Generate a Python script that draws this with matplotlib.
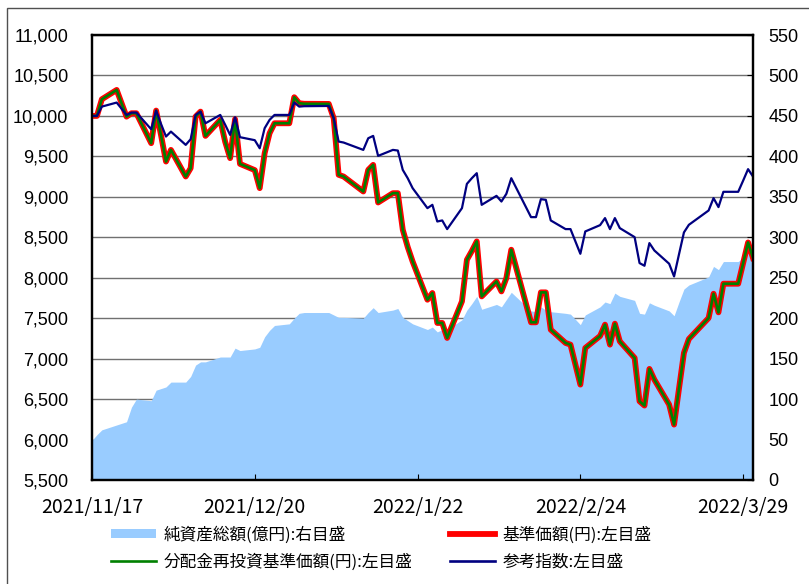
import matplotlib.pyplot as plt
import pandas as pd
from matplotlib.patches import Patch, Rectangle
from matplotlib.lines import Line2D
from matplotlib.ticker import FuncFormatter

dates = [
    "2021-11-17", "2021-11-18", "2021-11-19", "2021-11-22", "2021-11-24", "2021-11-25", "2021-11-26",
    "2021-11-29", "2021-11-30",
    "2021-12-01", "2021-12-02", "2021-12-03", "2021-12-06", "2021-12-07", "2021-12-08", "2021-12-09",
    "2021-12-10", "2021-12-13", "2021-12-14", "2021-12-15", "2021-12-16", "2021-12-17", "2021-12-20",
    "2021-12-21", "2021-12-22", "2021-12-23", "2021-12-24", "2021-12-27", "2021-12-28", "2021-12-29",
    "2021-12-30",
    "2022-01-04", "2022-01-05", "2022-01-06", "2022-01-07", "2022-01-11", "2022-01-12", "2022-01-13",
    "2022-01-14", "2022-01-17", "2022-01-18", "2022-01-19", "2022-01-20", "2022-01-21", "2022-01-24",
    "2022-01-25", "2022-01-26", "2022-01-27", "2022-01-28", "2022-01-31",
    "2022-02-01", "2022-02-02", "2022-02-03", "2022-02-04", "2022-02-07", "2022-02-08", "2022-02-09",
    "2022-02-10", "2022-02-14", "2022-02-15", "2022-02-16", "2022-02-17", "2022-02-18", "2022-02-21",
    "2022-02-22", "2022-02-24", "2022-02-25", "2022-02-28",
    "2022-03-01", "2022-03-02", "2022-03-03", "2022-03-04", "2022-03-07", "2022-03-08", "2022-03-09",
    "2022-03-10", "2022-03-11", "2022-03-14", "2022-03-15", "2022-03-16", "2022-03-17", "2022-03-18",
    "2022-03-22", "2022-03-23", "2022-03-24", "2022-03-25", "2022-03-28", "2022-03-29", "2022-03-30",
    "2022-03-31",
]

# 基準価額 (分配金再投資基準価額 is the same)
nav = [
    10000, 10000, 10206, 10321, 9991, 10033, 10033, 9663, 10066,
    9760, 9436, 9580, 9251, 9354, 9991, 10053, 9753, 9951, 9680, 9478, 9959, 9407, 9330,
    9107, 9539, 9786, 9909, 9909, 10231, 10157, 10150,
    10148, 9971, 9272, 9251, 9066, 9333, 9395, 8930, 9045, 9045, 8593, 8380, 8200, 7728,
    7811, 7441, 7441, 7256, 7708,
    8222, 8330, 8449, 7769, 7954, 7831, 7996, 8346, 7449, 7449, 7819, 7819, 7358, 7194,
    7173, 6679, 7132, 7280,
    7420, 7173, 7432, 7214, 7009, 6473, 6420, 6873, 6741, 6432, 6185, 6630, 7071, 7243,
    7502, 7802, 7572, 7926, 7926, 8180, 8436, 8243,
]
nav_reinvested = list(nav)

ref_index = [
    10000, 10000, 10115, 10165, 10012, 10041, 10041, 9835, 10066,
    9900, 9745, 9806, 9642, 9712, 10012, 10053, 9909, 10012, 9890, 9765, 9984, 9737, 9700,
    9600, 9848, 9951, 10012, 10012, 10165, 10115, 10120,
    10123, 9971, 9683, 9671, 9580, 9724, 9753, 9506, 9580, 9572, 9333, 9230, 9107, 8860,
    8901, 8695, 8708, 8601, 8860,
    9160, 9230, 9292, 8901, 9012, 8942, 9037, 9230, 8749, 8749, 8971, 8963, 8708, 8601,
    8601, 8296, 8572, 8650,
    8737, 8601, 8737, 8613, 8502, 8181, 8148, 8428, 8337, 8173, 8016, 8290, 8560, 8654,
    8831, 8984, 8873, 9062, 9062, 9200, 9342, 9251,
]

# 純資産総額 (億円)
assets = [
    49, 56, 62, 68, 72, 90, 100, 98, 111,
    113, 115, 121, 121, 128, 142, 146, 146, 152, 152, 152, 163, 160, 162,
    164, 177, 185, 191, 193, 200, 206, 207,
    207, 204, 201, 201, 200, 207, 213, 207, 210, 212, 201, 197, 193, 186,
    189, 183, 186, 186, 198,
    210, 218, 227, 211, 217, 214, 223, 232, 209, 208, 214, 210, 208, 206,
    205, 192, 204, 214,
    220, 218, 231, 227, 222, 206, 205, 219, 216, 209, 203, 220, 236, 241,
    251, 264, 260, 270, 270, 275, 285, 288,
]

tick_dates = ["2021-11-17", "2021-12-20", "2022-01-22", "2022-02-24", "2022-03-29"]
tick_labels = ["2021/11/17", "2021/12/20", "2022/1/22", "2022/2/24", "2022/3/29"]

labels = ["純資産総額(億円):右目盛", "基準価額(円):左目盛",
          "分配金再投資基準価額(円):左目盛", "参考指数:左目盛"]

x = pd.to_datetime(dates)

fig = plt.figure(figsize=(8.09, 5.84), dpi=100)
ax = fig.add_axes([92 / 809, 1 - 480 / 584, 661 / 809, 445 / 584])
ax2 = ax.twinx()
ax.set_zorder(ax2.get_zorder() + 1)
ax.patch.set_visible(False)

# area on the right scale, grid drawn from the right scale so it sits under the area
ax2.fill_between(x, assets, 0, color="#99CCFF", lw=0)
ax2.set_ylim(0, 550)
ax2.set_yticks(range(0, 551, 50))
ax2.set_axisbelow(True)
ax2.yaxis.grid(True, color="#707070", lw=1)

ax.plot(x, nav, color="#FF0000", lw=4.2, solid_joinstyle="round")
ax.plot(x, nav_reinvested, color="#008000", lw=1.9)
ax.plot(x, ref_index, color="#000080", lw=1.6)

ax.set_ylim(5500, 11000)
ax.set_yticks(range(5500, 11001, 500))
ax.yaxis.set_major_formatter(FuncFormatter(lambda v, p: f"{int(v):,}"))
ax.set_xlim(pd.Timestamp("2021-11-17"), pd.Timestamp("2022-03-31"))
ax.set_xticks(pd.to_datetime(tick_dates))
ax.set_xticklabels(tick_labels, fontfamily="Noto Sans CJK JP", fontsize=14)

for t in ax.get_yticklabels() + ax2.get_yticklabels():
    t.set_fontfamily("Liberation Sans")
    t.set_fontsize(13)

ax.tick_params(axis="y", length=0, pad=17)
ax.tick_params(axis="x", direction="in", length=4, pad=12, color="black")
ax2.tick_params(axis="y", direction="in", length=4, pad=11)

for a in (ax, ax2):
    for s in a.spines.values():
        s.set_linewidth(1.6)
        s.set_color("black")

handles = [
    Patch(facecolor="#99CCFF", edgecolor="none"),
    Line2D([], [], color="#008000", lw=1.9),
    Line2D([], [], color="#FF0000", lw=4.2),
    Line2D([], [], color="#000080", lw=1.9),
]
fig.legend(handles, [labels[0], labels[2], labels[1], labels[3]],
           loc="upper left", bbox_to_anchor=(96 / 809, 1 - 511 / 584),
           ncol=2, frameon=False, handlelength=2.7, handleheight=0.5,
           handletextpad=0.45, columnspacing=2.25, labelspacing=0.6,
           prop={"family": "Noto Sans CJK JP", "size": 12})

fig.add_artist(Rectangle((7 / 809, -0.1), 1.5, 1.1 - 8 / 584, transform=fig.transFigure,
                         fill=False, edgecolor="#505050", lw=1))

fig.savefig("out.png", dpi=100)
